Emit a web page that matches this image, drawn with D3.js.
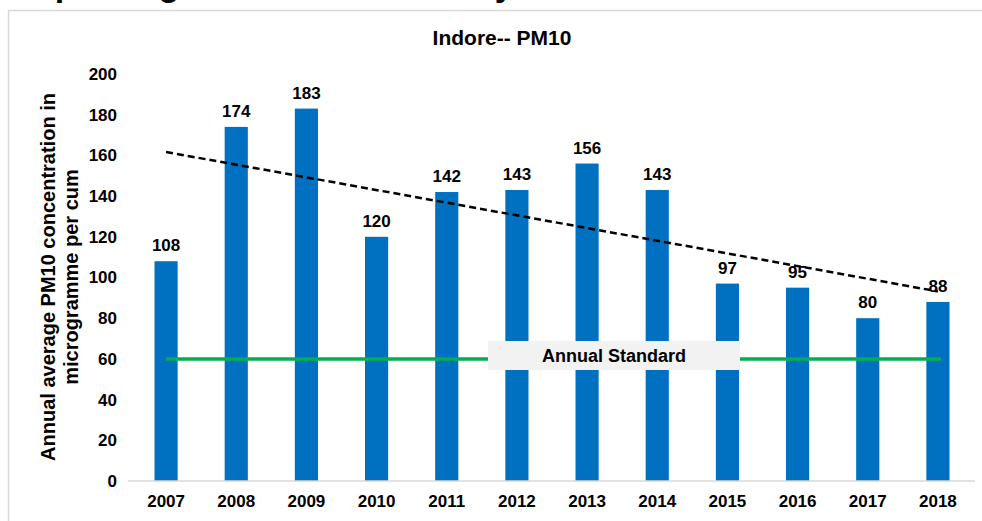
<!DOCTYPE html>
<html><head><meta charset="utf-8">
<script src="https://cdn.jsdelivr.net/npm/d3@7"></script>
<style>body{margin:0;background:#fff;}svg{display:block;font-family:"Liberation Sans",Arial,sans-serif;}</style>
</head><body>
<svg id="c" width="982" height="521"></svg>
<script>
const years = ["2007","2008","2009","2010","2011","2012","2013","2014","2015","2016","2017","2018"];
const pm10 = [108,174,183,120,142,143,156,143,97,95,80,88];
const yTicks = [0,20,40,60,80,100,120,140,160,180,200];
const annualStandard = 60;
const chartTitle = "Indore-- PM10";
const yTitleLines = ["Annual average PM10 concentration in","microgramme per cum"];
const standardLabel = "Annual Standard";
const pageHeading = "Improving trends in Indore city";

const svg = d3.select("#c");
// page heading, cut off by the top edge as in the reference (only descenders visible)
svg.append("clipPath").attr("id","hc").append("rect").attr("x",0).attr("y",0).attr("width",982).attr("height",9);
svg.append("text").attr("clip-path","url(#hc)").attr("x",15).attr("y",-4)
  .attr("font-size",34).attr("font-weight","bold").attr("fill","#000").text(pageHeading);

// chart frame
svg.append("rect").attr("x",8.5).attr("y",10.5).attr("width",1000).attr("height",520)
  .attr("fill","none").attr("stroke","#d9d9d9").attr("stroke-width",1.5);

const x = d3.scaleBand().domain(years).range([131,973]).paddingInner(0.67).paddingOuter(0.335);
const y = d3.scaleLinear().domain([0,200]).range([481,74]);

// title
svg.append("text").attr("x",502).attr("y",45).attr("text-anchor","middle")
  .attr("font-size",21).attr("font-weight","bold").attr("fill","#000").text(chartTitle);

// bars
svg.append("g").selectAll("rect").data(years).join("rect")
  .attr("x",d=>x(d)).attr("width",x.bandwidth())
  .attr("y",(d,i)=>y(pm10[i])).attr("height",(d,i)=>y(0)-y(pm10[i]))
  .attr("fill","#0070c0");

// x axis
const xa = svg.append("g").attr("transform",`translate(0,${y(0)})`)
  .call(d3.axisBottom(x).tickSize(0).tickPadding(14));
xa.select(".domain").attr("stroke","#d9d9d9").attr("stroke-width",1.5).attr("d","M128,0H975");
xa.selectAll("text").attr("font-size",17).attr("font-weight","bold").attr("fill","#000");

// y axis
const ya = svg.append("g").attr("transform","translate(117,0)")
  .call(d3.axisLeft(y).tickValues(yTicks).tickSize(0).tickPadding(0));
ya.select(".domain").remove();
ya.selectAll("text").attr("font-size",17).attr("font-weight","bold").attr("fill","#000");

// y title
const yt = svg.append("text").attr("transform","rotate(-90)")
  .attr("text-anchor","middle").attr("font-size",20).attr("font-weight","bold").attr("fill","#000");
yTitleLines.forEach((l,i)=>yt.append("tspan").attr("x",-277).attr("y",55+i*23).text(l));

// standard line
const cx = d => x(d)+x.bandwidth()/2;
svg.append("line").attr("x1",cx(years[0])).attr("x2",cx(years[years.length-1])+3)
  .attr("y1",y(annualStandard)).attr("y2",y(annualStandard))
  .attr("stroke","#00b050").attr("stroke-width",3.5);
// standard label box
svg.append("rect").attr("x",488).attr("y",341).attr("width",252).attr("height",29).attr("fill","#f2f2f2");
svg.append("text").attr("x",614).attr("y",362).attr("text-anchor","middle")
  .attr("font-size",18).attr("font-weight","bold").attr("fill","#000").text(standardLabel);

// trend line (least squares over data)
const n = pm10.length, mx = (n-1)/2, my = d3.mean(pm10);
const slope = d3.sum(pm10,(v,i)=>(i-mx)*(v-my))/d3.sum(pm10,(v,i)=>(i-mx)*(i-mx));
const fit = i => my + slope*(i-mx);
svg.append("line").attr("x1",cx(years[0])).attr("x2",cx(years[n-1]))
  .attr("y1",y(fit(0))).attr("y2",y(fit(n-1)))
  .attr("stroke","#000").attr("stroke-width",2.5).attr("stroke-dasharray","7,4");

// data labels
svg.append("g").selectAll("text").data(years).join("text")
  .attr("x",d=>cx(d)).attr("y",(d,i)=>y(pm10[i])-10).attr("text-anchor","middle")
  .attr("font-size",17).attr("font-weight","bold").attr("fill","#000")
  .text((d,i)=>pm10[i]);
</script>
</body></html>
